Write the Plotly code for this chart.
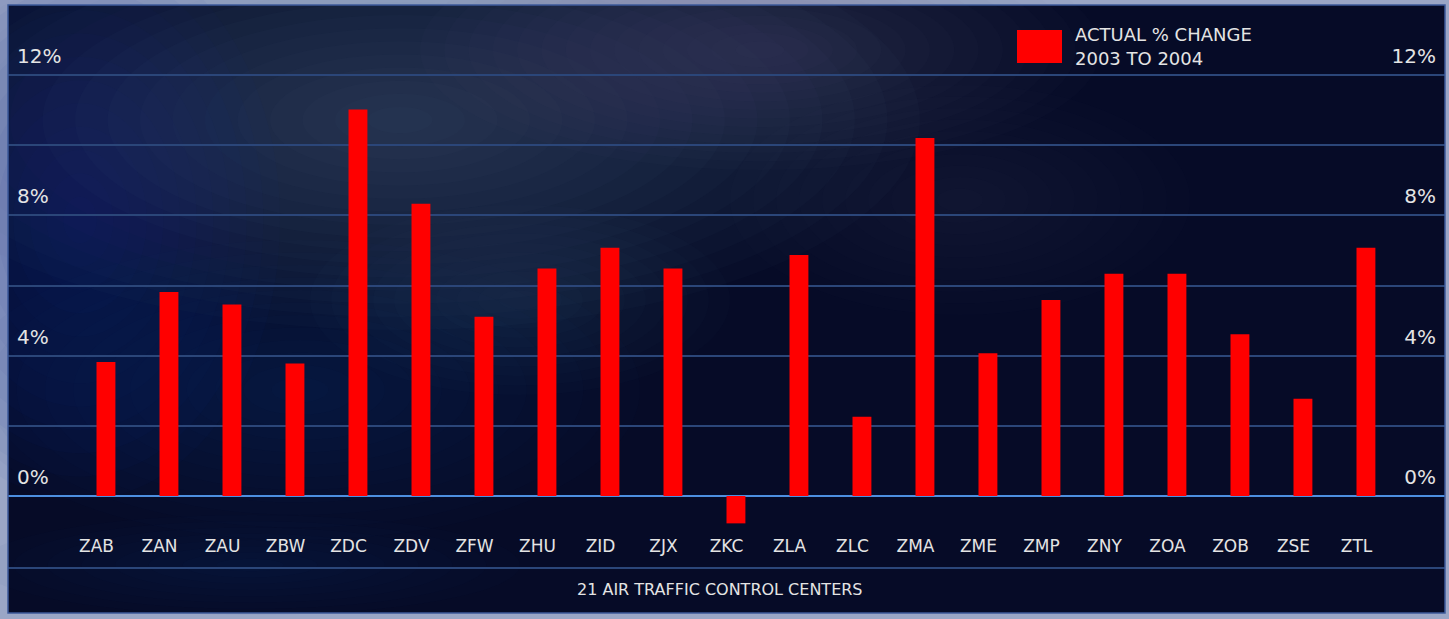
import plotly.graph_objects as go

# ---- data ----
centers = ["ZAB", "ZAN", "ZAU", "ZBW", "ZDC", "ZDV", "ZFW", "ZHU", "ZID", "ZJX", "ZKC",
           "ZLA", "ZLC", "ZMA", "ZME", "ZMP", "ZNY", "ZOA", "ZOB", "ZSE", "ZTL"]
pct_change = [3.82, 5.82, 5.46, 3.78, 11.02, 8.33, 5.11, 6.49, 7.08, 6.49, -0.78,
              6.87, 2.26, 10.21, 4.07, 5.59, 6.34, 6.34, 4.61, 2.77, 7.08]
tick_vals = [0, 2, 4, 6, 8, 10, 12]
tick_text = ["0%", "", "4%", "", "8%", "", "12%"]
series_name = "ACTUAL % CHANGE<br>2003 TO 2004"
x_title = "21 AIR TRAFFIC CONTROL CENTERS"

W, H = 1449, 619
ML, MR, MT, MB = 8, 4, 5, 52
PW, PH = W - ML - MR, H - MT - MB

def px_x(x):
    return (x - ML) / PW

def px_y(y):
    return (H - MB - y) / PH

FONT = "DejaVu Sans"
TXT = "#e4e4e4"
GRID = "#2b4679"
Y_RANGE = [-2.024, 14.0]

fig = go.Figure()
fig.add_trace(go.Bar(
    x=centers, y=pct_change, name=series_name,
    width=0.3, offset=0.0,
    marker=dict(color="#ff0000", line=dict(width=0)),
    showlegend=True, hoverinfo="x+y",
))
# invisible copy so the right-hand percentage axis is drawn
fig.add_trace(go.Scatter(
    x=centers, y=pct_change, yaxis="y2", mode="markers",
    marker=dict(opacity=0), showlegend=False, hoverinfo="skip",
))

shapes = []
# panel background
shapes.append(dict(type="rect", xref="paper", yref="paper", x0=0, x1=1,
                   y0=px_y(613), y1=1, fillcolor="#060b27",
                   line=dict(width=0), layer="below"))
# soft glows (decorative background texture)
glows = [  # cx, cy, rx, ry, rgb, steps, alpha
    (400, 120, 520, 210, (105, 120, 155), 16, 0.032),
    (760, 50, 340, 120, (95, 108, 140), 14, 0.028),
    (80, 220, 200, 280, (30, 55, 150), 12, 0.04),
    (300, 390, 340, 150, (40, 62, 125), 12, 0.032),
    (520, 300, 210, 95, (70, 90, 135), 10, 0.03),
    (960, 200, 230, 115, (60, 78, 125), 10, 0.026),
    (250, 565, 270, 50, (35, 52, 115), 8, 0.035),
]
for cx, cy, rx, ry, rgb, steps, a in glows:
    for k in range(steps):
        f = 1 - k / steps
        shapes.append(dict(type="circle", xref="paper", yref="paper",
                           x0=px_x(cx - rx * f), x1=px_x(cx + rx * f),
                           y0=px_y(cy + ry * f), y1=px_y(cy - ry * f),
                           fillcolor="rgba(%d,%d,%d,%.3f)" % (rgb + (a,)),
                           line=dict(width=0), layer="below"))
# panel border
shapes.append(dict(type="rect", xref="paper", yref="paper", x0=0, x1=1,
                   y0=px_y(613), y1=1, fillcolor="rgba(0,0,0,0)",
                   line=dict(color="#3d5a9a", width=1.5), layer="above"))
# enlarged legend swatch
shapes.append(dict(type="rect", xref="paper", yref="paper",
                   x0=px_x(1017), x1=px_x(1062), y0=px_y(63), y1=px_y(30),
                   fillcolor="#ff0000", line=dict(width=0), layer="above"))

ytick_common = dict(range=Y_RANGE, tickvals=tick_vals, ticktext=tick_text,
                    showline=False, ticks="", ticklabelposition="inside top",
                    ticklabelstandoff=6, ticklabelshift=-5,
                    tickfont=dict(family=FONT, size=20, color=TXT))

fig.update_layout(
    width=W, height=H,
    margin=dict(l=ML, r=MR, t=MT, b=MB, pad=0),
    paper_bgcolor="#9aa6c6",
    plot_bgcolor="rgba(0,0,0,0)",
    font=dict(family=FONT, color=TXT),
    shapes=shapes,
    showlegend=True,
    legend=dict(x=px_x(1035), y=px_y(16), xanchor="left", yanchor="top",
                bgcolor="rgba(0,0,0,0)", borderwidth=0,
                font=dict(family=FONT, size=18, color=TXT)),
    xaxis=dict(range=[-1.405, 21.405], showgrid=False, zeroline=False,
               showline=True, linecolor=GRID, linewidth=1.5,
               ticks="", ticklabelposition="inside", ticklabelstandoff=12,
               tickfont=dict(family=FONT, size=17, color=TXT)),
    yaxis=dict(showgrid=True, gridcolor=GRID, gridwidth=1.5,
               zeroline=True, zerolinecolor="#4d8fe0", zerolinewidth=1.5,
               **ytick_common),
    yaxis2=dict(overlaying="y", side="right", showgrid=False, zeroline=False,
                **ytick_common),
    annotations=[dict(text=x_title, xref="paper", yref="paper",
                      x=px_x(720), y=px_y(589), xanchor="center", yanchor="middle",
                      showarrow=False, font=dict(family=FONT, size=16, color=TXT))],
)

fig.write_html("out.html")
